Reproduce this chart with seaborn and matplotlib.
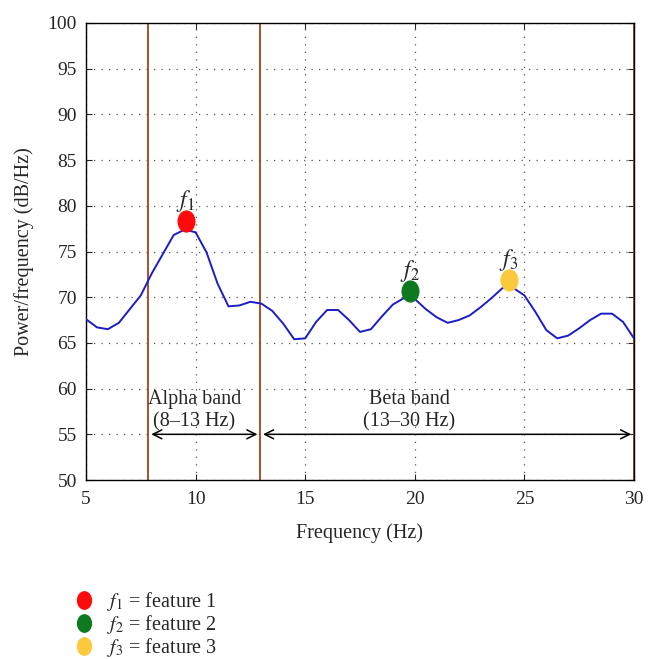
import numpy as np
import pandas as pd
import matplotlib
matplotlib.use("Agg")
import matplotlib.pyplot as plt
from matplotlib.path import Path
from matplotlib.transforms import Affine2D
from matplotlib.lines import Line2D
import seaborn as sns

# PSD curve
freq = [5.0, 5.5, 6.0, 6.5, 7.0, 7.5, 8.0, 8.5, 9.0, 9.5,
        10.0, 10.5, 11.0, 11.5, 12.0, 12.5, 13.0, 13.5, 14.0, 14.5,
        15.0, 15.5, 16.0, 16.5, 17.0, 17.5, 18.0, 18.5, 19.0, 19.5,
        20.0, 20.5, 21.0, 21.5, 22.0, 22.5, 23.0, 23.5, 24.0, 24.5,
        25.0, 25.5, 26.0, 26.5, 27.0, 27.5, 28.0, 28.5, 29.0, 29.5, 30.0]
power = [67.6, 66.7, 66.5, 67.2, 68.7, 70.2, 72.6, 74.7, 76.8, 77.4,
         77.1, 74.9, 71.5, 69.0, 69.1, 69.5, 69.3, 68.5, 67.1, 65.4,
         65.5, 67.3, 68.6, 68.6, 67.5, 66.2, 66.5, 67.9, 69.2, 69.9,
         69.8, 68.7, 67.8, 67.2, 67.5, 68.0, 68.9, 69.9, 71.0, 71.0,
         70.2, 68.4, 66.4, 65.5, 65.8, 66.6, 67.5, 68.2, 68.2, 67.3, 65.5]

# features
feat_names = ["$f_1$", "$f_2$", "$f_3$"]
feat_legend = ["$f_1$ = feature 1", "$f_2$ = feature 2", "$f_3$ = feature 3"]
feat_x = [9.55, 19.8, 24.3]
feat_y = [78.3, 70.7, 71.9]
feat_colors = ["#ff0a0a", "#0e7a1f", "#fcc83c"]

# band edges
band_edges = [7.85, 12.95, 30.0]
band_labels = ["Alpha band\n(8\u201313 Hz)", "Beta band\n(13\u201330 Hz)"]
band_label_x = [9.95, 19.75]

sns.set_style("ticks")
plt.rcParams["font.family"] = ["Liberation Serif", "DejaVu Serif"]
plt.rcParams["mathtext.fontset"] = "stix"

fig = plt.figure(figsize=(6.58, 6.59), dpi=100)
ax = fig.add_axes([0.1307, 0.2716, 0.8328, 0.6935])

df = pd.DataFrame({"freq": freq, "power": power})
sns.lineplot(data=df, x="freq", y="power", color="#1c1cc8", linewidth=1.4, ax=ax, zorder=3)

for xe in band_edges:
    ax.axvline(xe, color="#a0431c", linewidth=1.3, zorder=2)

# elliptic markers
ell = Path.unit_circle().transformed(Affine2D().scale(0.8, 1.0))
for name, x, y, c in zip(feat_names, feat_x, feat_y, feat_colors):
    ax.plot(x, y, marker=ell, markersize=15, color=c, linestyle="none", zorder=4)
    ax.text(x, y + 2.2, name, ha="center", va="center", fontsize=17)

# band arrows
ax.annotate("", xy=(band_edges[0], 55), xytext=(band_edges[1], 55),
            arrowprops=dict(arrowstyle="<->", color="black", lw=1.1,
                            mutation_scale=16))
ax.annotate("", xy=(band_edges[1], 55), xytext=(band_edges[2], 55),
            arrowprops=dict(arrowstyle="<->", color="black", lw=1.1,
                            mutation_scale=16))
for lbl, x in zip(band_labels, band_label_x):
    ax.text(x, 57.6, lbl, ha="center", va="center", fontsize=14.5, linespacing=1.2)

ax.set_xlim(5, 30)
ax.set_ylim(50, 100)
ax.set_xticks([5, 10, 15, 20, 25, 30])
ax.set_yticks(np.arange(50, 101, 5))
ax.grid(True, linestyle=(0, (1, 5)), color="#555555", linewidth=0.9)
ax.tick_params(direction="in", top=True, right=True, labelsize=14, length=4)
ax.tick_params(axis="y", pad=6.5)
ax.tick_params(axis="x", pad=8)
ax.set_xlabel("Frequency (Hz)", fontsize=14.5, labelpad=11)
ax.set_ylabel("Power/frequency (dB/Hz)", fontsize=14.5, labelpad=10)
for s in ax.spines.values():
    s.set_linewidth(1.0)
    s.set_color("black")

handles = [Line2D([], [], marker=ell, markersize=12.5, color=c, linestyle="none")
           for c in feat_colors]
fig.legend(handles, feat_legend, loc="upper left", bbox_to_anchor=(0.113, 0.104),
           frameon=False, fontsize=14.5, handletextpad=0.6, labelspacing=0.0,
           handlelength=1.0, borderaxespad=0, borderpad=0)

fig.savefig("out.png", dpi=100)
